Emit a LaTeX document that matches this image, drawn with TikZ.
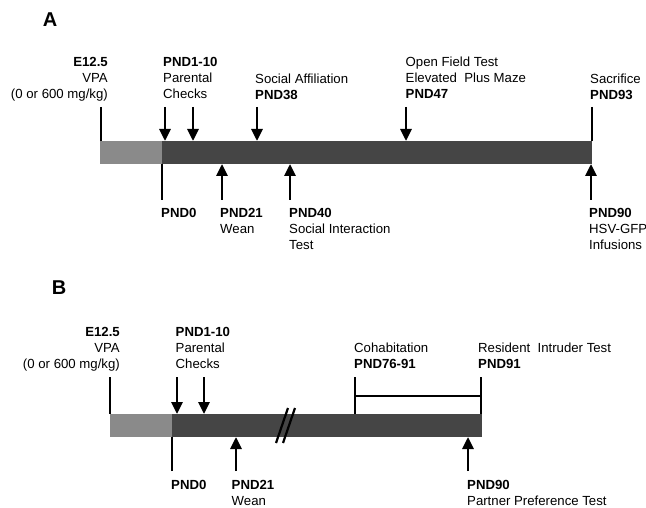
\documentclass[tikz,border=0pt]{standalone}
\usepackage{fontspec}
\setmainfont{Liberation Sans}
\usepackage{tikz}
\usetikzlibrary{arrows.meta, positioning}
\definecolor{prebar}{HTML}{8A8A8A}
\definecolor{postbar}{HTML}{454545}
\tikzstyle{arrow}=[-{Triangle[width=11pt,length=12pt]}, line width=2.8pt, color=black]
\tikzstyle{tick}=[line width=2.8pt, color=black]

\begin{document}
\begin{tikzpicture}[x=1pt, y=-1pt,
  pre/.style={rectangle, fill=prebar, inner sep=0pt, anchor=north west, minimum height=23pt},
  post/.style={rectangle, fill=postbar, inner sep=0pt, anchor=north west, minimum height=23pt},
  lab/.style={inner sep=0pt, align=left, anchor=north west, font=\fontsize{13.2}{16}\selectfont},
  labr/.style={lab, align=right, anchor=north east},
  panel/.style={inner sep=0pt, font=\fontsize{20}{20}\selectfont\bfseries}
]
\useasboundingbox (0,0) rectangle (646,508);

% Panel A
\node[panel] (tagA) at (50,20) {A};
\node[pre, minimum width=62pt] (preA) at (100,141) {};
\node[post, minimum width=430pt] (postA) at (162,141) {};

\node[labr] (vpaA) at (108,57) {\textbf{E12.5}\\VPA\\(0 or 600 mg/kg)};
\node[lab] (chkA) at (163,57) {\textbf{PND1-10}\\Parental\\Checks};
\node[lab] (affA) at (255,73.5) {Social Affiliation\\\textbf{PND38}};
\node[lab] (ofA) at (405.5,57) {Open Field Test\\Elevated\ \ Plus Maze\\\textbf{PND47}};
\node[lab] (sacA) at (590,73.5) {Sacrifice\\\textbf{PND93}};
\node[lab] (p0A) at (161,208.5) {\textbf{PND0}};
\node[lab] (weanA) at (220,208.5) {\textbf{PND21}\\Wean};
\node[lab] (siA) at (289,208.5) {\textbf{PND40}\\Social Interaction\\Test};
\node[lab] (hsvA) at (589,208.5) {\textbf{PND90}\\HSV-GFP\\Infusions};

% start and end points on the bar
\foreach \name/\x in {e/101, c1/165, c2/193, af/257, of/406, sc/592} {
  \coordinate (A\name s) at (\x,107);
  \coordinate (A\name) at (\x,141);
}
\foreach \name/\x in {z/162, w/222, si/290, hv/591} {
  \coordinate (A\name s) at (\x,200);
  \coordinate (A\name) at (\x,164);
}
\draw[tick] (Aes) -- (Ae);
\draw[tick] (Ascs) -- (Asc);
\draw[tick] (Azs) -- (Az);
\foreach \name in {c1, c2, af, of, w, si, hv}
  \draw[arrow] (A\name s) -- (A\name);

% Panel B
\node[panel] (tagB) at (59,288) {B};
\node[pre, minimum width=62pt] (preB) at (110,414) {};
\node[post, minimum width=310pt] (postB) at (172,414) {};

\node[labr] (vpaB) at (120,327.5) {\textbf{E12.5}\\VPA\\(0 or 600 mg/kg)};
\node[lab] (chkB) at (175.5,327.5) {\textbf{PND1-10}\\Parental\\Checks};
\node[lab] (cohB) at (354,342.5) {Cohabitation\\\textbf{PND76-91}};
\node[lab] (resB) at (478,342.5) {Resident\ \ Intruder Test\\\textbf{PND91}};
\node[lab] (p0B) at (171,480.5) {\textbf{PND0}};
\node[lab] (weanB) at (231.5,480.5) {\textbf{PND21}\\Wean};
\node[lab] (ppB) at (467,480) {\textbf{PND90}\\Partner Preference Test};

\foreach \name/\x in {e/110, c1/177, c2/204, ch/355, rs/481} {
  \coordinate (B\name s) at (\x,377);
  \coordinate (B\name) at (\x,414);
}
\foreach \name/\x in {z/172, w/236, pp/468} {
  \coordinate (B\name s) at (\x,471);
  \coordinate (B\name) at (\x,437);
}
\draw[tick] (Bes) -- (Be);
\draw[tick] (Bzs) -- (Bz);
\draw[tick] (Bchs) -- (Bch);
\draw[tick] (Brss) -- (Brs);
\draw[tick, line width=2.5pt] (Bch |- 0,396) -- (Brs |- 0,396);
\foreach \name in {c1, c2, w, pp}
  \draw[arrow] (B\name s) -- (B\name);

% break in the time axis
\coordinate (brk1) at (276,443);
\coordinate (brk2) at (288,408);
\coordinate (brk3) at (283,443);
\coordinate (brk4) at (295,408);
\draw[tick, line width=2.2pt] (brk1) -- (brk2);
\draw[tick, line width=2.2pt] (brk3) -- (brk4);
\end{tikzpicture}
\end{document}
